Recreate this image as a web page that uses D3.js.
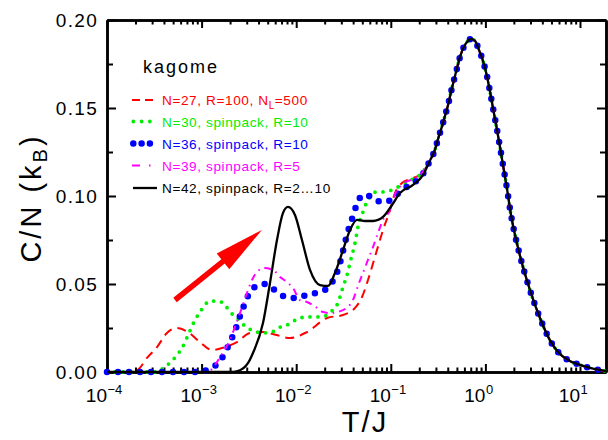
<!DOCTYPE html>
<html>
<head>
<meta charset="utf-8">
<script src="https://cdn.jsdelivr.net/npm/d3@7"></script>
<style>
	body { margin: 0; background: #fff; }
	svg { display: block; font-family: "Liberation Sans", Arial, sans-serif; }
	.axis path, .axis line { stroke: #000; }
	.axis path { stroke-width: 2.5; }
	.axis line { stroke-width: 2; }
	.curve { fill: none; }
</style>
</head>
<body>
<div id="chart"></div>
<script>

// ---- data (log10 of T/J, and C/N in units of k_B) ----
var xDecades = [-4, -3, -2, -1, 0, 1];
var yTickVals = [0, 0.05, 0.10, 0.15, 0.20];
var yTickLabels = ["0.00", "0.05", "0.10", "0.15", "0.20"];
var yMinorVals = [0.025, 0.075, 0.125, 0.175];

// N=27, R=100, N_L=500 (red dashed)
var n27LogT = [-4, -3.81, -3.683, -3.577, -3.471, -3.366, -3.26, -3.144, -3.017, -2.89, -2.784, -2.626, -2.488, -2.351, -2.21, -2.066, -1.886, -1.674, -1.505, -1.378, -1.304, -1.241, -1.146, -1.082, -1.008, -0.956, -0.882, -0.797, -0.691];
var n27C    = [0, 0, 0.001, 0.008, 0.0142, 0.0222, 0.025, 0.0227, 0.017, 0.0125, 0.0136, 0.017, 0.0222, 0.0227, 0.021, 0.0193, 0.0227, 0.0307, 0.0324, 0.0364, 0.0426, 0.0523, 0.0693, 0.0807, 0.092, 0.1017, 0.1074, 0.1097, 0.112];

// N=30, spinpack, R=10 (green dotted)
var n30LogT = [-4, -3.493, -3.44, -3.387, -3.313, -3.26, -3.207, -3.133, -3.07, -3.017, -2.911, -2.827, -2.753, -2.7, -2.636, -2.573, -2.52, -2.467, -2.362, -2.256, -2.192, -2.097, -1.96, -1.875, -1.78, -1.696, -1.622, -1.569, -1.537, -1.505, -1.463, -1.421, -1.378, -1.347, -1.294, -1.262, -1.22, -1.156, -1.082, -0.987, -0.924, -0.839, -0.765, -0.691];
var n30C    = [0, 0, 0.001, 0.003, 0.0063, 0.0097, 0.0136, 0.0222, 0.0295, 0.0341, 0.0403, 0.0403, 0.0381, 0.0341, 0.0313, 0.0278, 0.025, 0.0239, 0.0222, 0.0227, 0.025, 0.0267, 0.0307, 0.0313, 0.0313, 0.0318, 0.0347, 0.0381, 0.0426, 0.0483, 0.055, 0.0642, 0.0733, 0.0824, 0.0909, 0.0955, 0.0994, 0.1023, 0.1023, 0.1034, 0.1051, 0.1074, 0.1097, 0.112];

// N=36, spinpack, R=10 (blue big dots)
var n36LogT = [-4, -3.0, -2.932, -2.827, -2.753, -2.7, -2.647, -2.605, -2.562, -2.51, -2.436, -2.33, -2.214, -2.108, -1.992, -1.865, -1.738, -1.643, -1.579, -1.537, -1.505, -1.474, -1.442, -1.4, -1.357, -1.294, -1.23, -1.178, -1.051, -0.945, -0.85, -0.744, -0.66];
var n36C    = [0, 0, 0.0017, 0.005, 0.0108, 0.017, 0.0233, 0.0301, 0.0364, 0.0432, 0.0483, 0.05, 0.046, 0.0426, 0.042, 0.0443, 0.0455, 0.0494, 0.0551, 0.062, 0.0688, 0.0756, 0.0818, 0.0886, 0.0955, 0.1006, 0.1, 0.0977, 0.0966, 0.1006, 0.1045, 0.108, 0.1125];

// N=39, spinpack, R=5 (magenta dash-dot)
var n39LogT = [-4, -3.0, -2.943, -2.858, -2.805, -2.721, -2.594, -2.52, -2.467, -2.404, -2.34, -2.245, -2.171, -2.097, -2.034, -1.96, -1.886, -1.78, -1.717, -1.643, -1.505, -1.4, -1.336, -1.294, -1.23, -1.188, -1.135, -1.082, -1.019, -0.956, -0.871, -0.765, -0.691];
var n39C    = [0, 0, 0, 0.004, 0.0085, 0.016, 0.0335, 0.0449, 0.0523, 0.0574, 0.0591, 0.058, 0.054, 0.0511, 0.0477, 0.0409, 0.0398, 0.0364, 0.0341, 0.0335, 0.0352, 0.0409, 0.0506, 0.0563, 0.0653, 0.071, 0.079, 0.0864, 0.0909, 0.1011, 0.1068, 0.1097, 0.112];

// N=42, spinpack, R=2...10 (black solid)
var n42LogT = [-4, -2.7, -2.62, -2.51, -2.457, -2.351, -2.277, -2.203, -2.14, -2.087, -2.013, -1.939, -1.854, -1.748, -1.664, -1.59, -1.505, -1.431, -1.357, -1.273, -1.188, -1.082, -0.987, -0.903, -0.765, -0.66];
var n42C    = [0, 0, 0.0005, 0.005, 0.0108, 0.0278, 0.0506, 0.075, 0.0903, 0.0938, 0.0892, 0.075, 0.058, 0.0494, 0.0489, 0.0563, 0.0693, 0.0807, 0.0864, 0.0858, 0.0858, 0.0881, 0.0949, 0.1017, 0.1063, 0.1119];

// high temperature part, where all system sizes agree
var commonLogT = [-0.586, -0.533, -0.498, -0.462, -0.427, -0.392, -0.364, -0.335, -0.303, -0.268, -0.223, -0.19, -0.155, -0.11, -0.071, -0.029, 0.014, 0.049, 0.084, 0.12, 0.154, 0.189, 0.225, 0.268, 0.366, 0.471, 0.577, 0.683, 0.768, 0.873, 1.0, 1.106, 1.275];
var commonC    = [0.1201, 0.1263, 0.1328, 0.139, 0.1455, 0.1523, 0.159, 0.1653, 0.172, 0.1791, 0.1852, 0.1878, 0.1892, 0.1882, 0.1834, 0.1773, 0.1688, 0.1593, 0.1489, 0.1385, 0.128, 0.1167, 0.1053, 0.0902, 0.066, 0.0466, 0.0307, 0.018, 0.0114, 0.0068, 0.004, 0.0023, 0.0005];

// arrow annotation (log10 T, C)
var arrowFrom = [-3.281, 0.0409];
var arrowTo   = [-2.362, 0.0807];

var series = [
	{ label: "N=27, R=100, N", sub: "L", tail: "=500", color: "#ff0000", width: 2,   dash: "9,6",        cap: "butt",  logT: n27LogT, c: n27C },
	{ label: "N=30, spinpack, R=10",            color: "#00ee00", width: 3.8, dash: "0,8",        cap: "round", logT: n30LogT, c: n30C },
	{ label: "N=36, spinpack, R=10",            color: "#0000ff", width: 6.5, dash: "0,11",       cap: "round", logT: n36LogT, c: n36C },
	{ label: "N=39, spinpack, R=5",             color: "#ff00ff", width: 2,   dash: "7,5,1.5,5",  cap: "butt",  logT: n39LogT, c: n39C },
	{ label: "N=42, spinpack, R=2\u202610",     color: "#000000", width: 2.3, dash: null,         cap: "butt",  logT: n42LogT, c: n42C }
];

// ---- layout ----
var W = 608, H = 440;
var plot = { left: 107, right: 606, top: 20, bottom: 372 };

var svg = d3.select("#chart").append("svg")
	.attr("width", W).attr("height", H);

var x = d3.scaleLog()
	.domain([1e-4, Math.pow(10, 1.275)])
	.range([plot.left, plot.right]);
var y = d3.scaleLinear()
	.domain([0, 0.2])
	.range([plot.bottom, plot.top]);

var xMajor = xDecades.map(function(d) { return Math.pow(10, d); });
var xMinor = [];
xDecades.forEach(function(d) {
	for (var k = 2; k <= 9; k++) {
		var v = k * Math.pow(10, d);
		if (v <= x.domain()[1]) xMinor.push(v);
	}
});

// axes (ticks point inwards, as in the original)
function addAxis(axis, tx, ty) {
	svg.append("g").attr("class", "axis")
		.attr("transform", "translate(" + tx + "," + ty + ")")
		.call(axis)
		.call(function(g) { g.selectAll("text").remove(); });
}
addAxis(d3.axisBottom(x).tickValues(xMinor).tickSize(-4.5).tickSizeOuter(0), 0, plot.bottom);
addAxis(d3.axisBottom(x).tickValues(xMajor).tickSize(-8).tickSizeOuter(0), 0, plot.bottom);
addAxis(d3.axisTop(x).tickValues(xMinor).tickSize(-4.5).tickSizeOuter(0), 0, plot.top);
addAxis(d3.axisTop(x).tickValues(xMajor).tickSize(-8).tickSizeOuter(0), 0, plot.top);
addAxis(d3.axisLeft(y).tickValues(yMinorVals).tickSize(-6).tickSizeOuter(0), plot.left, 0);
addAxis(d3.axisLeft(y).tickValues(yTickVals).tickSize(-9).tickSizeOuter(0), plot.left, 0);
addAxis(d3.axisRight(y).tickValues(yMinorVals).tickSize(-6).tickSizeOuter(0), plot.right, 0);
addAxis(d3.axisRight(y).tickValues(yTickVals).tickSize(-9).tickSizeOuter(0), plot.right, 0);

// tick labels
svg.append("g").selectAll("text")
	.data(yTickVals)
	.enter().append("text")
	.attr("x", 98)
	.attr("y", function(d) { return y(d) + 7; })
	.attr("text-anchor", "end")
	.attr("font-size", 19)
	.attr("letter-spacing", 1.3)
	.text(function(d, i) { return yTickLabels[i]; });

var xl = svg.append("g").selectAll("g")
	.data(xDecades)
	.enter().append("g")
	.attr("transform", function(d) { return "translate(" + x(Math.pow(10, d)) + ",402)"; });
xl.append("text")
	.attr("text-anchor", "end")
	.attr("font-size", 19)
	.text("10");
xl.append("text")
	.attr("x", 0.5)
	.attr("y", -8)
	.attr("font-size", 13)
	.text(function(d) { return d < 0 ? "\u2212" + (-d) : d; });

// axis titles
svg.append("text")
	.attr("x", 365).attr("y", 432)
	.attr("text-anchor", "middle")
	.attr("font-size", 29)
	.attr("letter-spacing", 2)
	.text("T/J");

var yt = svg.append("text")
	.attr("transform", "translate(41,198) rotate(-90)")
	.attr("text-anchor", "middle")
	.attr("font-size", 29)
	.attr("letter-spacing", 3);
yt.append("tspan").text("C/N  (k");
yt.append("tspan").attr("dy", 6).attr("font-size", 20).text("B");
yt.append("tspan").attr("dy", -6).text(")");

// curves
var line = d3.line()
	.x(function(d) { return x(Math.pow(10, d[0])); })
	.y(function(d) { return y(d[1]); })
	.curve(d3.curveMonotoneX);

series.forEach(function(s) {
	var pts = s.logT.map(function(t, i) { return [t, s.c[i]]; });
	commonLogT.forEach(function(t, i) { pts.push([t, commonC[i]]); });
	var p = svg.append("path")
		.datum(pts)
		.attr("class", "curve")
		.attr("d", line)
		.attr("stroke", s.color)
		.attr("stroke-width", s.width)
		.attr("stroke-linecap", s.cap)
		.attr("stroke-linejoin", "round");
	if (s.dash) p.attr("stroke-dasharray", s.dash);
});

// red arrow
var ax0 = x(Math.pow(10, arrowFrom[0])), ay0 = y(arrowFrom[1]);
var ax1 = x(Math.pow(10, arrowTo[0])),   ay1 = y(arrowTo[1]);
var len = Math.hypot(ax1 - ax0, ay1 - ay0);
var ux = (ax1 - ax0) / len, uy = (ay1 - ay0) / len;
var headLen = 50, headHalf = 10;
var bx = ax1 - ux * headLen, by = ay1 - uy * headLen;
svg.append("line")
	.attr("x1", ax0).attr("y1", ay0)
	.attr("x2", bx + ux * 2).attr("y2", by + uy * 2)
	.attr("stroke", "#ff0000").attr("stroke-width", 5.5);
svg.append("polygon")
	.attr("points", [
		[ax1, ay1],
		[bx - uy * headHalf, by + ux * headHalf],
		[bx + uy * headHalf, by - ux * headHalf]
	].map(function(p) { return p.join(","); }).join(" "))
	.attr("fill", "#ff0000");

// legend
svg.append("text")
	.attr("x", 143).attr("y", 73)
	.attr("font-size", 18)
	.attr("letter-spacing", 2)
	.text("kagome");

var legY = [100, 121.5, 143.5, 165.5, 188];
var lg = svg.append("g").attr("font-size", 13.6).attr("letter-spacing", 0.6);
series.forEach(function(s, i) {
	var yy = legY[i];
	var sample = lg.append("line")
		.attr("x1", 131).attr("x2", 157)
		.attr("y1", yy).attr("y2", yy)
		.attr("stroke", s.color)
		.attr("stroke-width", s.width)
		.attr("stroke-linecap", s.cap);
	if (i === 0) sample.attr("x1", 132).attr("x2", 153).attr("stroke-dasharray", "8,5");
	if (i === 1) sample.attr("x1", 133.3).attr("x2", 151).attr("stroke-dasharray", "0,8.3");
	if (i === 2) sample.attr("x1", 133.3).attr("x2", 151).attr("stroke-dasharray", "0,8.3");
	if (i === 3) sample.attr("x1", 132).attr("x2", 150.5).attr("stroke-dasharray", "8,9,1.5,20");
	if (i === 4) sample.attr("x1", 133).attr("x2", 157);

	var t = lg.append("text")
		.attr("x", 162).attr("y", yy + 5)
		.attr("fill", s.color);
	t.append("tspan").text(s.label);
	if (s.sub) {
		t.append("tspan").attr("dy", 3.5).attr("font-size", 10).text(s.sub);
		t.append("tspan").attr("dy", -3.5).text(s.tail);
	}
});

</script>
</body>
</html>
